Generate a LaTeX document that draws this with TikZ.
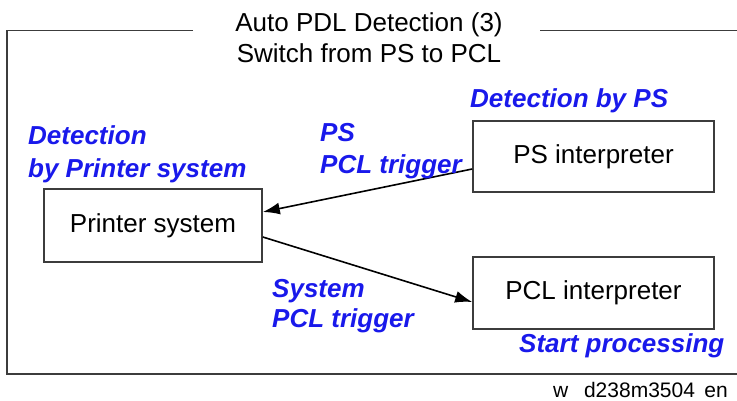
\documentclass[tikz,border=0pt]{standalone}
\usepackage{fontspec}
\setmainfont{Liberation Sans}
\usetikzlibrary{arrows.meta,calc}
\definecolor{lblblue}{RGB}{25,25,235}
\definecolor{framegray}{RGB}{60,60,60}
\begin{document}
\begin{tikzpicture}[x=1pt,y=-1pt,
  boxnode/.style={draw=framegray, line width=1.6pt, fill=white, inner sep=0pt,
     font=\fontsize{26}{30}\selectfont, text=black},
  bluelbl/.style={text=lblblue, font=\fontsize{26}{30}\selectfont\bfseries\itshape, inner sep=0pt, anchor=base west},
  plainlbl/.style={text=black, font=\fontsize{26}{30}\selectfont, inner sep=0pt},
  conn/.style={line width=1.6pt, black, -{Latex[length=17pt,width=12pt]}}]
\useasboundingbox (0,0) rectangle (737,401);
% frame
\coordinate (fl1) at (193,30.5);
\coordinate (fc) at (7,30.5);
\coordinate (fb) at (7,374);
\coordinate (fbr) at (737,374);
\coordinate (fr1) at (540,30.5);
\coordinate (fr2) at (737,30.5);
\draw[framegray, line width=1.8pt] (fl1) -- (fc) -- (fb) -- (fbr);
\draw[framegray, line width=1.8pt] (fr1) -- (fr2);
% title
\node[plainlbl, anchor=base] (t1) at (369,32) {Auto PDL Detection (3)};
\node[plainlbl, anchor=base] (t2) at (369,63) {Switch from PS to PCL};
% boxes
\node[boxnode, minimum width=218pt, minimum height=73pt] (psys) at (153,225.5) {Printer system};
\node[boxnode, minimum width=241pt, minimum height=71pt] (psi) at (593.5,156.5) {PS interpreter};
\node[boxnode, minimum width=241pt, minimum height=72pt] (pcl) at (593.5,293) {PCL interpreter};
% connectors
\draw[conn] ($(psi.west)+(0,12.5)$) -- ($(psys.east)+(0,-13.5)$);
\draw[conn] ($(psys.east)+(0,11.5)$) -- ($(pcl.west)+(0,9)$);
% blue labels
\node[bluelbl] (ldps) at (470,108) {Detection by PS};
\node[bluelbl] (ldet1) at (28,145) {Detection};
\node[bluelbl] (ldet2) at (28,178) {by Printer system};
\node[bluelbl] (lps1) at (320,142) {PS};
\node[bluelbl] (lps2) at (320,174) {PCL trigger};
\node[bluelbl] (lsys1) at (272,297) {System};
\node[bluelbl] (lsys2) at (272,327) {PCL trigger};
\node[bluelbl] (lstart) at (519,352) {Start processing};
% footer
\node[text=black, font=\fontsize{21}{24}\selectfont, inner sep=0pt, anchor=base east] (foot) at (728,397) {w\hspace{0.75em}d238m3504\hspace{0.45em}en};
\end{tikzpicture}
\end{document}
